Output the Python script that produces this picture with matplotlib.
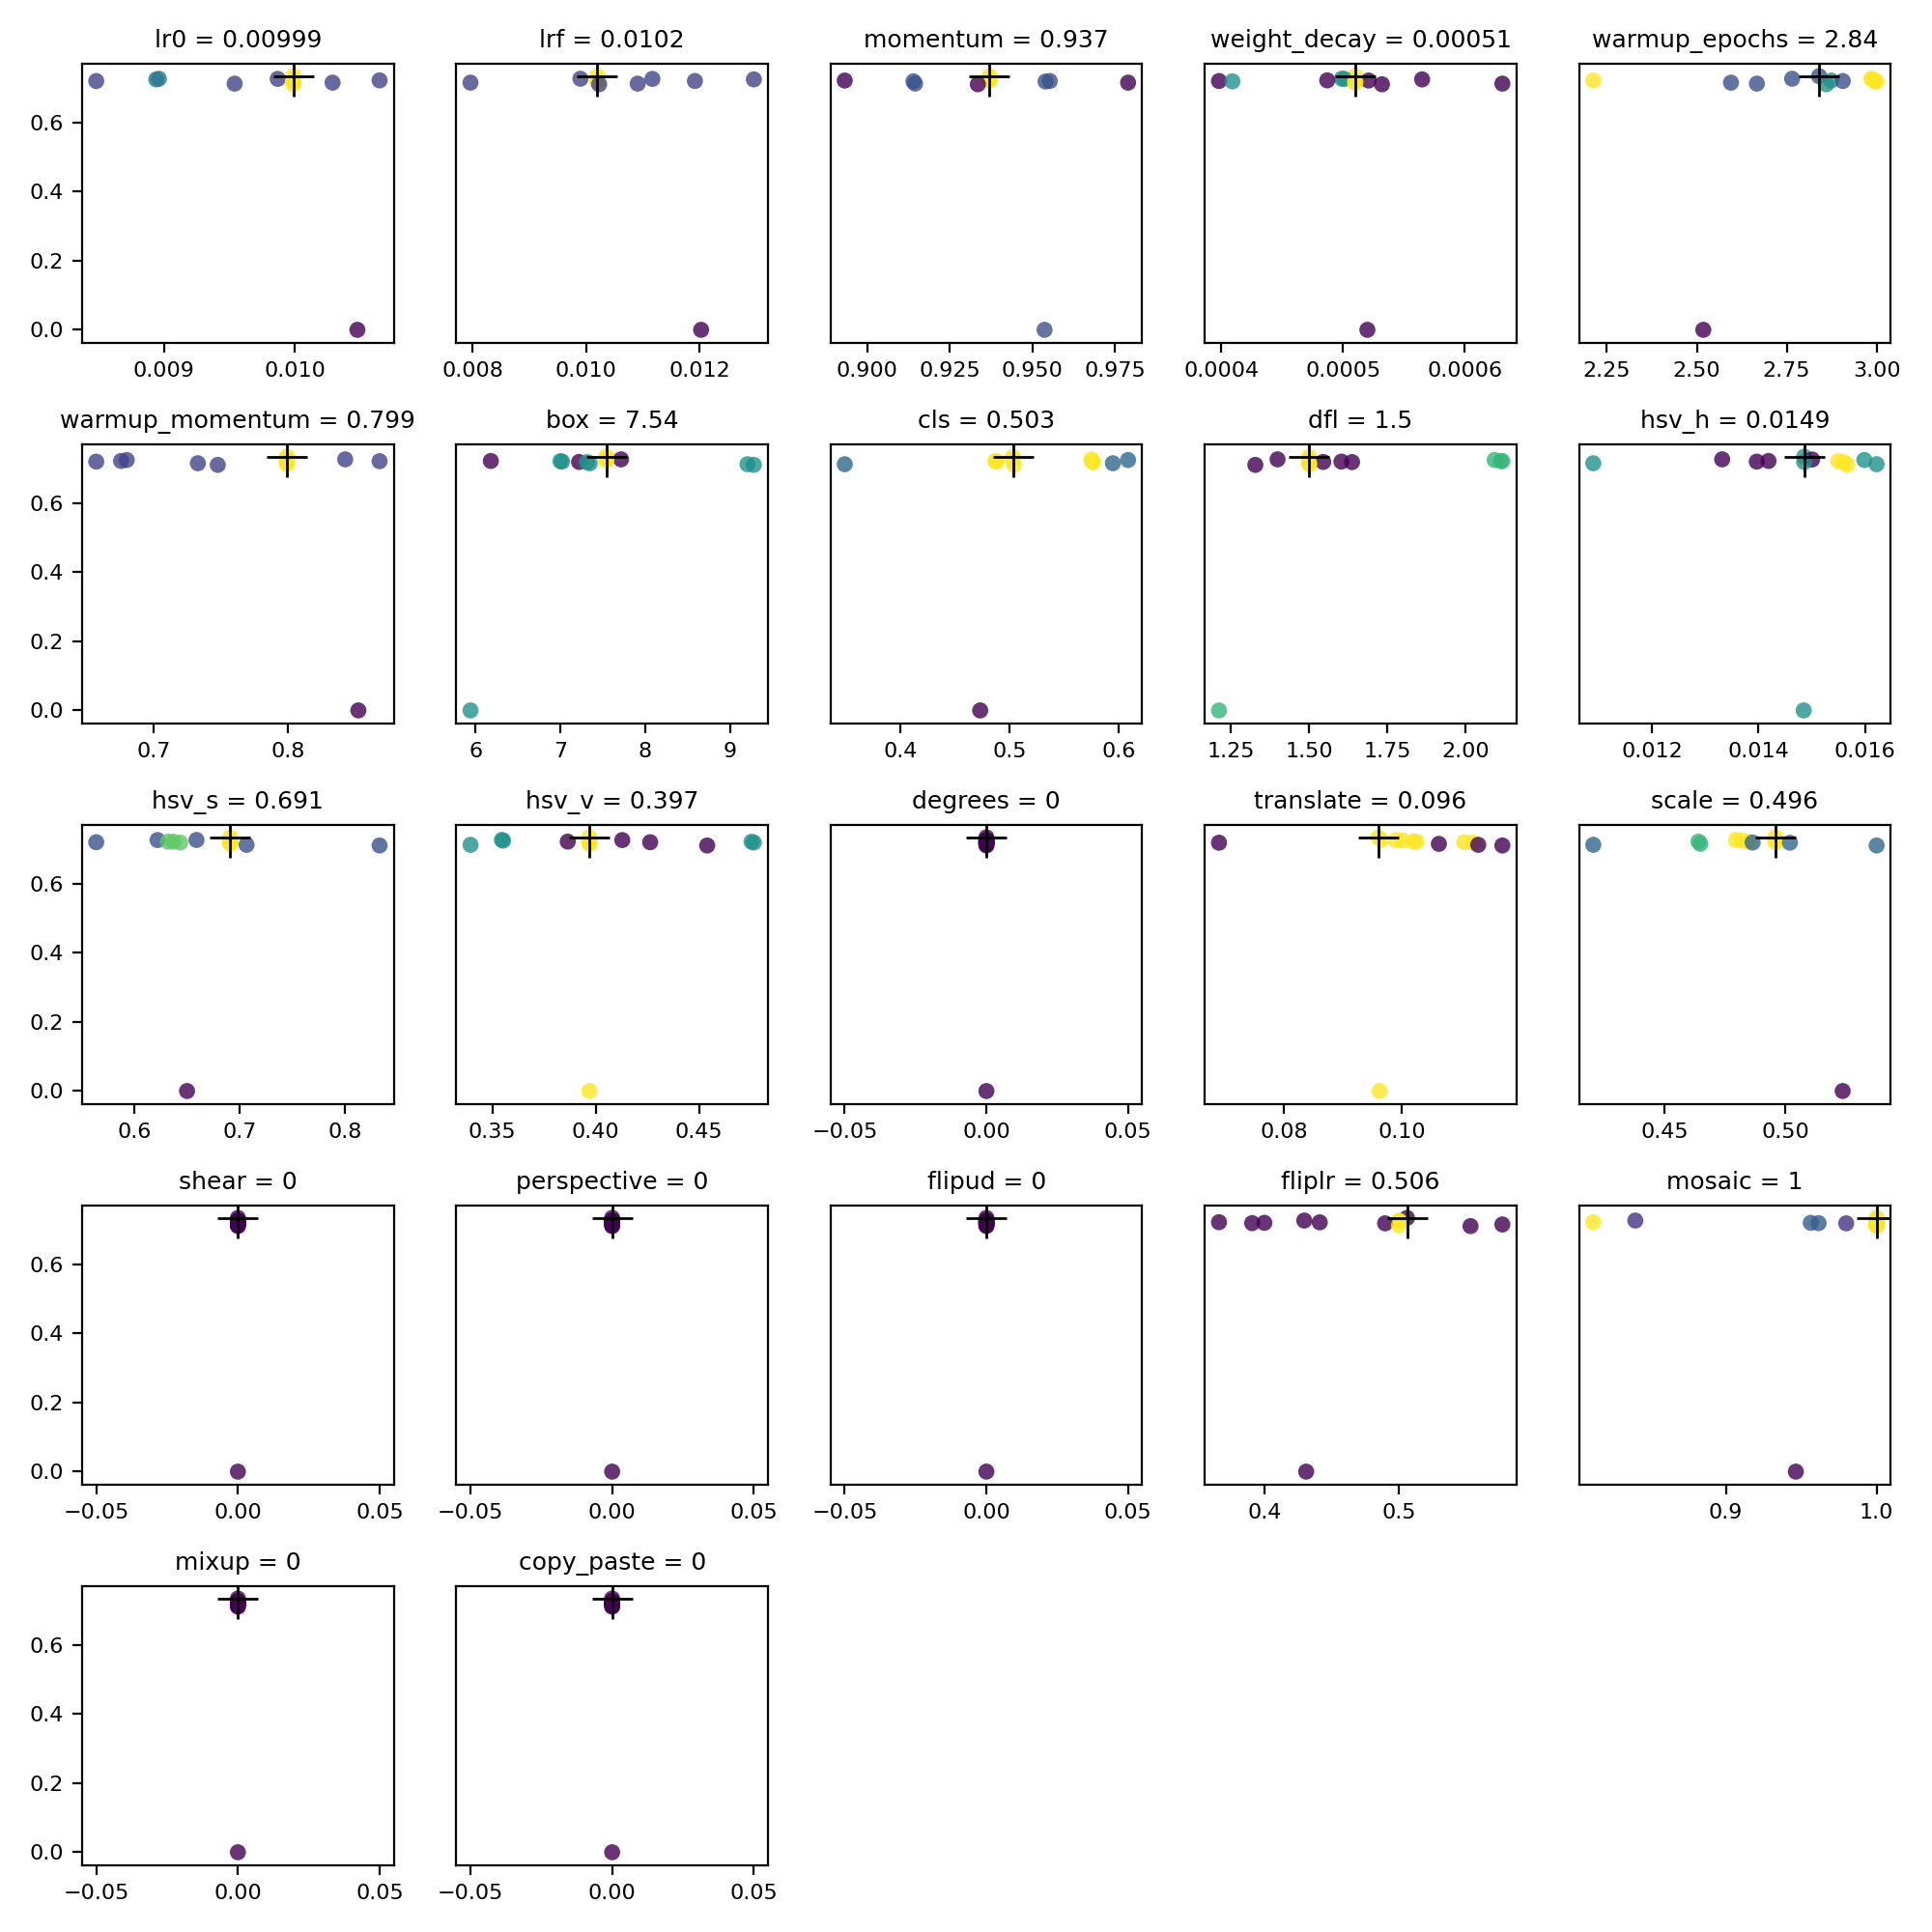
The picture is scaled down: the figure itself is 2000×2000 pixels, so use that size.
import numpy as np
import matplotlib
matplotlib.use("Agg")
import matplotlib.pyplot as plt

# fitness of each tuning iteration (index 0 is the best)
fitness = [0.7340, 0.7264, 0.7260, 0.7245, 0.7217, 0.7212, 0.7198, 0.7189, 0.7184, 0.7151, 0.7123, 0.7104, 0.0]

lr0 = [0.00999, 0.00896, 0.00987, 0.00894, 0.01065, 0.00999, 0.00848, 0.00999, 0.00999, 0.01029, 0.00954, 0.00999, 0.01048]
lrf = [0.0102, 0.0099, 0.01117, 0.01296, 0.0102, 0.0102, 0.01192, 0.0102, 0.0102, 0.00796, 0.01091, 0.01023, 0.01203]
momentum = [0.937, 0.937, 0.937, 0.937, 0.937, 0.8932, 0.9553, 0.914, 0.954, 0.979, 0.9145, 0.9335, 0.9537]
weight_decay = [0.00051, 0.000499, 0.000501, 0.000565, 0.000487, 0.000521, 0.000398, 0.000409, 0.00051, 0.00051, 0.000631, 0.000532, 0.00052]
warmup_epochs = [2.84, 2.765, 2.985, 2.99, 2.212, 2.874, 2.906, 2.995, 3.0, 2.595, 2.667, 2.86, 2.518]
warmup_momentum = [0.799, 0.8424, 0.799, 0.6797, 0.6755, 0.868, 0.657, 0.799, 0.799, 0.7327, 0.799, 0.7475, 0.8522]
box = [7.54, 7.715, 7.54, 7.54, 6.18, 7.0, 7.02, 7.22, 7.313, 7.345, 9.205, 9.28, 5.94]
cls = [0.503, 0.5025, 0.575, 0.6087, 0.487, 0.488, 0.4875, 0.576, 0.5765, 0.5947, 0.3487, 0.504, 0.473]
dfl = [1.5, 1.399, 1.5, 2.092, 2.117, 2.112, 1.603, 1.545, 1.637, 1.5, 1.5, 1.328, 1.212]
hsv_h = [0.01486, 0.01332, 0.01501, 0.01599, 0.01419, 0.0155, 0.01397, 0.01486, 0.0156, 0.0109, 0.01622, 0.01567, 0.01485]
hsv_s = [0.691, 0.659, 0.622, 0.691, 0.632, 0.637, 0.5637, 0.6435, 0.691, 0.691, 0.7066, 0.833, 0.650]
hsv_v = [0.397, 0.3546, 0.4129, 0.3552, 0.3865, 0.4755, 0.4264, 0.4766, 0.397, 0.397, 0.3394, 0.454, 0.397]
degrees = [0.0] * 13
translate = [0.096, 0.0965, 0.099, 0.1001, 0.102, 0.1025, 0.1106, 0.1121, 0.0689, 0.1063, 0.113, 0.1171, 0.0962]
scale = [0.496, 0.4795, 0.496, 0.482, 0.464, 0.4845, 0.496, 0.4865, 0.502, 0.4648, 0.4203, 0.538, 0.5239]
shear = [0.0] * 13
perspective = [0.0] * 13
flipud = [0.0] * 13
fliplr = [0.506, 0.4295, 0.5, 0.5, 0.366, 0.441, 0.3998, 0.3907, 0.4897, 0.577, 0.5, 0.5533, 0.4309]
mosaic = [1.0, 0.8399, 1.0, 1.0, 0.812, 1.0, 0.9563, 0.9615, 0.9798, 1.0, 1.0, 1.0, 0.9464]
mixup = [0.0] * 13
copy_paste = [0.0] * 13

keys = ["lr0", "lrf", "momentum", "weight_decay", "warmup_epochs", "warmup_momentum", "box", "cls", "dfl",
        "hsv_h", "hsv_s", "hsv_v", "degrees", "translate", "scale", "shear", "perspective", "flipud",
        "fliplr", "mosaic", "mixup", "copy_paste"]
values = [lr0, lrf, momentum, weight_decay, warmup_epochs, warmup_momentum, box, cls, dfl,
          hsv_h, hsv_s, hsv_v, degrees, translate, scale, shear, perspective, flipud,
          fliplr, mosaic, mixup, copy_paste]


def plt_color_scatter(v, f, bins=20, cmap="viridis", alpha=0.8, edgecolors="none"):
    hist, xedges, yedges = np.histogram2d(v, f, bins=bins)
    colors = [
        hist[
            min(np.digitize(v[i], xedges, right=True) - 1, hist.shape[0] - 1),
            min(np.digitize(f[i], yedges, right=True) - 1, hist.shape[1] - 1),
        ]
        for i in range(len(v))
    ]
    plt.scatter(v, f, c=colors, cmap=cmap, alpha=alpha, edgecolors=edgecolors)


f = np.array(fitness)
j = int(np.argmax(f))
n = int(np.ceil(len(keys) ** 0.5))
plt.figure(figsize=(10, 10), tight_layout=True)
for i, (k, vals) in enumerate(zip(keys, values)):
    v = np.array(vals, dtype=float)
    mu = v[j]
    plt.subplot(n, n, i + 1)
    plt_color_scatter(v, f)
    plt.plot(mu, f.max(), "k+", markersize=15)
    plt.title(f"{k} = {mu:.3g}", fontdict={"size": 9})
    plt.tick_params(axis="both", labelsize=8)
    if i % n != 0:
        plt.yticks([])
plt.savefig("out.png", dpi=200)
